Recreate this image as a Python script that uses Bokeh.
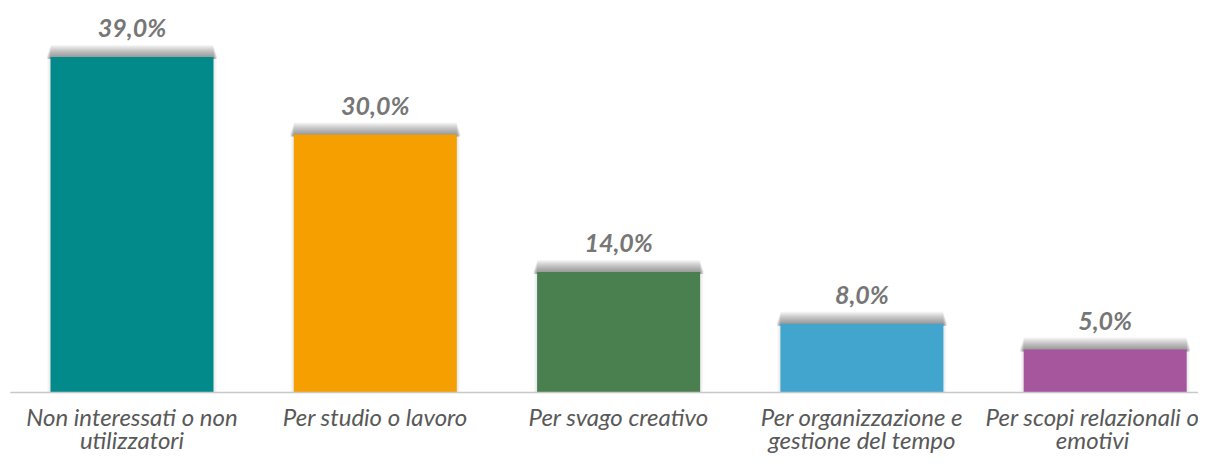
from bokeh.plotting import figure
from bokeh.models import Range1d, ColumnDataSource
from bokeh.core.properties import value
from bokeh.embed import file_html
from bokeh.resources import INLINE

categories = [
    "Non interessati o non\nutilizzatori",
    "Per studio o lavoro",
    "Per svago creativo",
    "Per organizzazione e\ngestione del tempo",
    "Per scopi relazionali o\nemotivi",
]
values = [39.0, 30.0, 14.0, 8.0, 5.0]
colors = ["#028A8A", "#F59F00", "#4A7F4F", "#42A5CE", "#A5569D"]
value_labels = [f"{v:.1f}%".replace(".", ",") for v in values]

W, H = 1198, 453
SPACING = 243.3   # px per category
PPU = 8.6         # px per percent
BASE = 392        # px from top to baseline
FIRST = 131.5     # px centre of first category

x0 = -FIRST / SPACING
x1 = x0 + W / SPACING
y1 = BASE / PPU
y0 = -(H - BASE) / PPU
ux = 1 / SPACING
uy = 1 / PPU

p = figure(width=W, height=H, output_backend="svg", toolbar_location=None,
           x_range=Range1d(x0, x1), y_range=Range1d(y0, y1),
           x_axis_type=None, y_axis_type=None, min_border=0,
           outline_line_color=None, background_fill_color="white")

xs = list(range(len(values)))
bw = 0.67

# faint side shadow
for s in (1, 2, 3):
    p.quad(left=[x - bw / 2 - s * ux for x in xs],
           right=[x + bw / 2 + s * ux for x in xs],
           bottom=[0] * len(xs),
           top=[v for v in values],
           fill_color="#2a2a2a", fill_alpha=0.03, line_color=None)
# soft shadow above each bar
for k in range(1, 13):
    p.quad(left=[x - bw / 2 - (4 - k * 0.35) * ux for x in xs],
           right=[x + bw / 2 + (4 - k * 0.35) * ux for x in xs],
           bottom=[v - 2 * uy for v in values],
           top=[v + k * uy for v in values],
           fill_color="#2a2a2a", fill_alpha=0.048, line_color=None)

src = ColumnDataSource(dict(x=xs, top=values, color=colors, lab=value_labels,
                            ly=[v + 30 * uy for v in values]))
p.vbar(x="x", top="top", bottom=0, width=bw, fill_color="color", line_color=None, source=src)

# baseline axis line
p.segment(x0=[-0.5], y0=[0], x1=[x1 + 1], y1=[0], line_color="#C8C8C8", line_width=1.5)

p.text(x="x", y="ly", text="lab", source=src, text_align="center", text_baseline="alphabetic",
       text_font=value("Lato"), text_font_style="bold italic", text_font_size="25px",
       text_color="#767676")

line1 = [c.split("\n")[0] for c in categories]
line2 = [c.split("\n")[1] if "\n" in c else "" for c in categories]
# last label is pulled in so that it stays inside the canvas
lx = [float(x) for x in xs]
lx[-1] = x1 - 106 * ux
p.text(x=lx, y=[-24 * uy] * len(xs), text=line1, text_align="center", text_baseline="alphabetic",
       text_font=value("Lato"), text_font_style="italic", text_font_size="24px", text_color="#595959")
p.text(x=lx, y=[-47 * uy] * len(xs), text=line2, text_align="center", text_baseline="alphabetic",
       text_font=value("Lato"), text_font_style="italic", text_font_size="24px", text_color="#595959")

open("out.html", "w").write(file_html(p, INLINE))
